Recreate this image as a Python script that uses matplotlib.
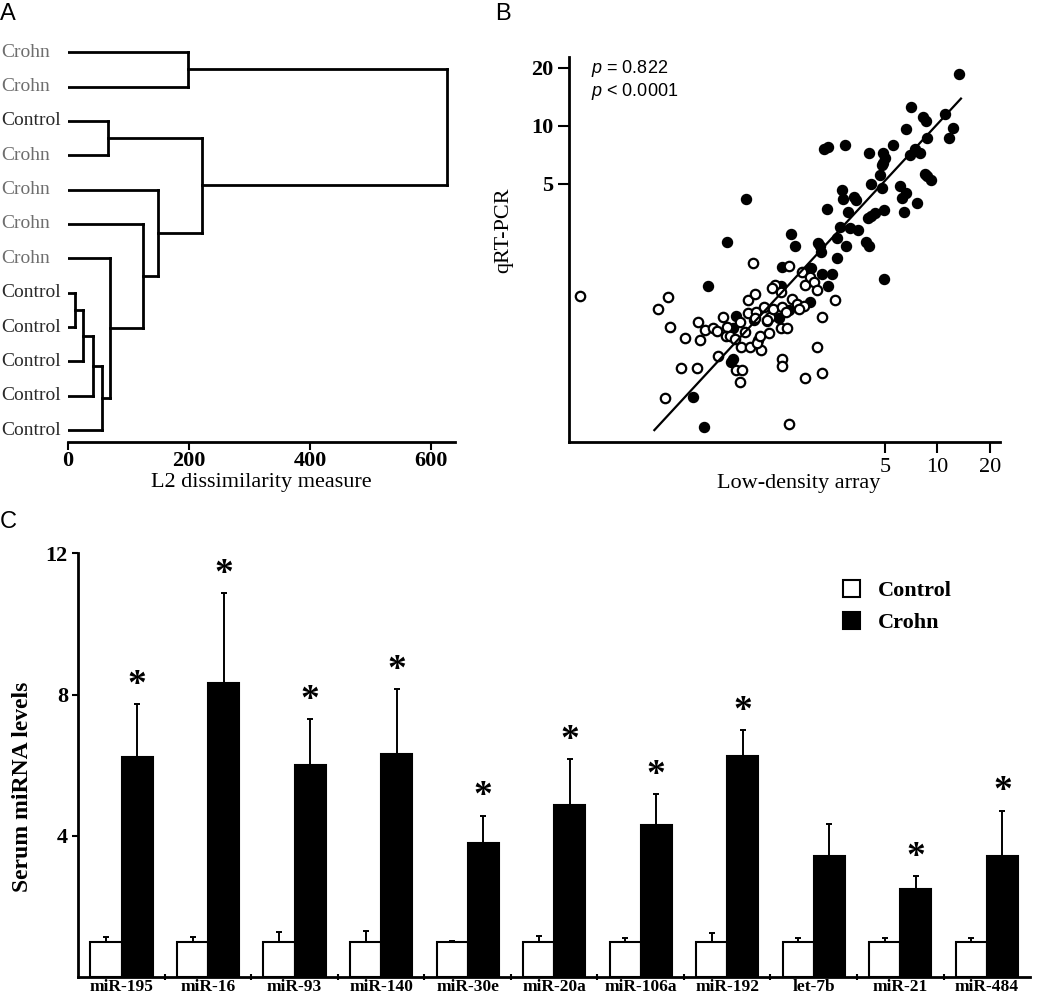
import numpy as np
import matplotlib
matplotlib.use('Agg')
import matplotlib.pyplot as plt
import matplotlib.ticker as ticker
import matplotlib.transforms as mtrans
from matplotlib.patches import Patch

SERIF = 'Liberation Serif'
SANS = 'Liberation Sans'
plt.rcParams['font.family'] = SERIF
plt.rcParams['mathtext.fontset'] = 'custom'
plt.rcParams['mathtext.it'] = 'Liberation Sans:italic'
plt.rcParams['mathtext.rm'] = 'Liberation Sans'

# ---------- A: hierarchical clustering ----------
leaf_labels = ['Crohn', 'Crohn', 'Control', 'Crohn', 'Crohn', 'Crohn', 'Crohn',
               'Control', 'Control', 'Control', 'Control', 'Control']
# (child a, child b, height); new clusters numbered from len(leaf_labels)
merges = [(7, 8, 12), (12, 9, 26), (13, 10, 42), (14, 11, 56), (6, 15, 70),
          (5, 16, 125), (4, 17, 149), (2, 3, 66), (19, 18, 221),
          (0, 1, 199), (21, 20, 626)]
dissim_ticks = [0, 200, 400, 600]

# ---------- B: array vs qRT-PCR (log2 fold change) ----------
crohn_lda = [3.73, 2.82, 3.46, 3.05, 3.11, 2.72, 3.61, 3.13, 3.54, 1.16, 1.23, 1.56,
             2.48, 2.02, 2.28, 2.80, 2.89, 2.99, 2.33, 2.29, 2.26, 2.22, 3.09, 3.13,
             3.20, 2.05, 2.61, 2.26, 1.50, 2.73, 2.65, 1.53, 1.74, 1.78, 2.94, -0.32,
             2.14, 2.00, 2.05, 2.30, 2.69, 1.22, 1.62, 1.46, 1.65, 1.80, 1.41, 0.54,
             -0.68, 1.96, 2.01, 1.04, 1.08, 1.58, 0.61, 1.11, 1.40, 2.30, 0.91, 0.36,
             1.13, 1.31, 1.23, -1.04, 0.35, 0.89, -0.52, -0.18, 0.30, 0.50, 0.07, -0.57,
             -0.61, -0.57, -0.09, -1.33, -1.13]
crohn_qpcr = [4.22, 3.64, 3.52, 3.47, 3.41, 3.27, 3.29, 3.11, 3.12, 2.93, 2.96, 2.99,
              3.00, 2.85, 2.86, 2.82, 2.93, 2.86, 2.76, 2.68, 2.64, 2.47, 2.50, 2.46,
              2.39, 2.32, 2.29, 2.25, 2.22, 2.16, 2.08, 2.06, 2.10, 2.05, 2.00, 2.06,
              1.83, 1.74, 1.77, 1.87, 1.84, 1.89, 1.84, 1.59, 1.57, 1.53, 1.40, 1.46,
              1.33, 1.32, 1.26, 1.30, 1.26, 1.26, 1.25, 1.15, 1.05, 0.69, 0.88, 0.89,
              0.78, 0.77, 0.57, 0.57, 0.57, 0.30, 0.06, -0.01, 0.01, 0.15, -0.04, -0.16,
              -0.74, -0.68, -0.36, -1.34, -1.86]
ctrl_lda = [-3.49, -2.01, -1.81, -1.78, -1.48, -1.23, -1.20, -1.57, -1.26, -1.86, -1.10,
            -0.95, -0.87, -0.76, -0.68, -0.71, -0.63, -0.54, -0.44, -0.42, -0.35, -0.85,
            -0.52, -0.41, -0.44, -0.24, -0.03, -0.11, -0.06, 0.12, -0.28, -0.15, -0.28,
            -0.14, 0.02, 0.13, 0.19, 0.37, 0.34, 0.45, 0.36, 0.36, 0.80, 1.13, 1.02,
            1.13, 0.49, -0.20, 0.49, 0.75, 0.80, 0.89, 0.97, 1.02, 1.37, 0.56, 0.64,
            0.78, 0.69, 0.43, 0.22, 0.17, 0.35, 0.08, -0.15]
ctrl_qpcr = [0.39, 0.17, 0.38, -0.14, -0.32, -0.06, -0.36, -0.84, -0.84, -1.35, -0.19,
             -0.16, -0.21, 0.04, -0.13, -0.29, -0.29, -0.35, -0.06, -0.48, -0.22, -0.63,
             -0.88, -0.88, -1.08, -0.48, -0.53, -0.42, -0.29, -0.24, 0.33, 0.43, 0.11,
             0.12, 0.21, 0.04, 0.18, 0.21, -0.16, -0.16, -0.69, -0.80, -1.02, -0.92, -0.49,
             0.04, -1.81, 0.97, 0.91, 0.80, 0.58, 0.72, 0.64, 0.50, 0.33, 0.35, 0.26,
             0.22, 0.18, 0.12, 0.59, 0.54, 0.47, -0.02, 0.01]
fit_slope = 0.976
fit_intercept = 0.11
fit_range = [-2.07, 3.77]
scatter_ticks = [5, 10, 20]

# ---------- C: serum miRNA levels ----------
mirnas = ['miR-195', 'miR-16', 'miR-93', 'miR-140', 'miR-30e', 'miR-20a',
          'miR-106a', 'miR-192', 'let-7b', 'miR-21', 'miR-484']
ctrl_mean = [1.0, 1.0, 1.0, 1.0, 1.0, 1.0, 1.0, 1.0, 1.0, 1.0, 1.0]
ctrl_err = [0.13, 0.14, 0.29, 0.32, 0.04, 0.18, 0.10, 0.25, 0.10, 0.10, 0.10]
crohn_mean = [6.24, 8.34, 6.01, 6.32, 3.79, 4.88, 4.31, 6.27, 3.44, 2.49, 3.44]
crohn_err = [1.49, 2.53, 1.30, 1.83, 0.78, 1.29, 0.87, 0.73, 0.89, 0.38, 1.27]
significant = [True, True, True, True, True, True, True, True, False, True, True]
level_ticks = [4, 8, 12]

LW = 2.0


def panel_letter(fig, x, y, letter):
    fig.text(x, y, letter, family=SANS, fontsize=17, va='top', ha='left')


def plot_dendrogram(fig):
    ax = fig.add_axes([0.0645, 0.5565, 0.369, 0.4083])
    n = len(leaf_labels)
    pos = {i: n - 1 - i for i in range(n)}
    hgt = {i: 0 for i in range(n)}
    for k, (a, b, h) in enumerate(merges):
        for c in (a, b):
            ax.plot([hgt[c], h], [pos[c], pos[c]], color='k', lw=LW,
                    solid_capstyle='projecting')
        ax.plot([h, h], [pos[a], pos[b]], color='k', lw=LW,
                solid_capstyle='projecting')
        pos[n + k] = (pos[a] + pos[b]) / 2
        hgt[n + k] = h

    trans = mtrans.blended_transform_factory(fig.transFigure, ax.transData)
    for i, lab in enumerate(leaf_labels):
        col = '#6e6e6e' if lab == 'Crohn' else '#2a2a2a'
        ax.text(0.001, pos[i], lab, transform=trans, fontsize=14, color=col,
                ha='left', va='center')

    ax.set_xlim(0, 640)
    ax.set_ylim(-0.34, 11.5)
    for s in ['left', 'top', 'right']:
        ax.spines[s].set_visible(False)
    ax.spines['bottom'].set_linewidth(LW)
    ax.set_yticks([])
    ax.set_xticks(dissim_ticks)
    ax.tick_params(axis='x', length=6, width=1.5, pad=1)
    for t in ax.get_xticklabels():
        t.set_fontsize(16)
        t.set_fontweight('bold')
    ax.set_xlabel('L2 dissimilarity measure', fontsize=16, labelpad=1)


def plot_scatter(fig):
    ax = fig.add_axes([0.5422, 0.5565, 0.410, 0.3866])
    ax.set_xscale('log', base=2)
    ax.set_yscale('log', base=2)
    ax.scatter(2.0 ** np.array(crohn_lda), 2.0 ** np.array(crohn_qpcr), s=52,
               facecolors='k', edgecolors='k', linewidths=1.0, zorder=2)
    ax.scatter(2.0 ** np.array(ctrl_lda), 2.0 ** np.array(ctrl_qpcr), s=46,
               facecolors='white', edgecolors='k', linewidths=1.6, zorder=2)
    fx = np.array(fit_range)
    ax.plot(2.0 ** fx, 2.0 ** (fit_slope * fx + fit_intercept), color='k',
            lw=1.6, zorder=3)

    ax.set_xlim(2.0 ** -3.69, 2.0 ** 4.51)
    ax.set_ylim(2.0 ** -2.11, 2.0 ** 4.51)
    for axis in (ax.xaxis, ax.yaxis):
        axis.set_major_locator(ticker.FixedLocator(scatter_ticks))
        axis.set_minor_locator(ticker.NullLocator())
        axis.set_major_formatter(ticker.FixedFormatter([str(v) for v in scatter_ticks]))
    ax.spines['top'].set_visible(False)
    ax.spines['right'].set_visible(False)
    ax.spines['left'].set_linewidth(LW)
    ax.spines['bottom'].set_linewidth(LW)
    ax.tick_params(axis='both', length=8, width=1.5)
    for t in ax.get_yticklabels():
        t.set_fontsize(16)
        t.set_fontweight('bold')
    for t in ax.get_xticklabels():
        t.set_fontsize(16)
    ax.set_xlabel('Low-density array', fontsize=16)
    ax.xaxis.set_label_coords(0.533, -0.085)
    ax.set_ylabel('qRT-PCR', fontsize=16)
    ax.yaxis.set_label_coords(-0.13, 0.55)

    ax.text(0.05, 0.97, r'$p$ = 0.822', transform=ax.transAxes, family=SANS,
            fontsize=13, va='center')
    ax.text(0.05, 0.91, r'$p$ < 0.0001', transform=ax.transAxes, family=SANS,
            fontsize=13, va='center')


def plot_bars(fig):
    ax = fig.add_axes([0.0746, 0.01878, 0.9064, 0.4257])
    x = np.arange(len(mirnas))
    w = 0.36
    ax.bar(x - w / 2, ctrl_mean, w, color='white', edgecolor='k', lw=1.5,
           label='Control', zorder=2)
    ax.bar(x + w / 2, crohn_mean, w, color='k', edgecolor='k', lw=1.5,
           label='Crohn', zorder=2)
    zeros = np.zeros(len(mirnas))
    ax.errorbar(x - w / 2, ctrl_mean, yerr=[zeros, ctrl_err], fmt='none',
                ecolor='k', elinewidth=1.4, capsize=2.5, capthick=1.4, zorder=1)
    ax.errorbar(x + w / 2, crohn_mean, yerr=[zeros, crohn_err], fmt='none',
                ecolor='k', elinewidth=1.4, capsize=2.5, capthick=1.4, zorder=1)
    for i, sig in enumerate(significant):
        if sig:
            ax.annotate('*', (x[i] + w / 2, crohn_mean[i] + crohn_err[i]),
                        xytext=(0, 1), textcoords='offset points', ha='center',
                        va='bottom', fontsize=27, fontweight='bold')

    ax.set_xlim(-0.5, len(mirnas) - 0.5)
    ax.set_ylim(0, 12)
    ax.set_yticks(level_ticks)
    ax.set_xticks(x)
    ax.set_xticklabels(mirnas)
    ax.xaxis.set_minor_locator(ticker.FixedLocator(x[:-1] + 0.5))
    ax.tick_params(axis='x', which='major', length=0, pad=1)
    ax.tick_params(axis='x', which='minor', length=4, width=1.5, direction='inout')
    ax.tick_params(axis='y', length=4, width=1.5)
    for t in ax.get_xticklabels():
        t.set_fontsize(12.5)
        t.set_fontweight('bold')
    for t in ax.get_yticklabels():
        t.set_fontsize(16)
        t.set_fontweight('bold')
    ax.spines['top'].set_visible(False)
    ax.spines['right'].set_visible(False)
    ax.spines['left'].set_linewidth(LW)
    ax.spines['bottom'].set_linewidth(LW)
    ax.set_ylabel('Serum miRNA levels', fontsize=17, fontweight='bold')
    ax.yaxis.set_label_coords(-0.048, 0.45)

    handles = [Patch(facecolor='white', edgecolor='k', lw=1.5, label='Control'),
               Patch(facecolor='k', edgecolor='k', lw=1.5, label='Crohn')]
    ax.legend(handles=handles, loc='upper left', bbox_to_anchor=(0.782, 0.985),
              frameon=False, handlelength=0.8, handleheight=0.8,
              handletextpad=0.8, labelspacing=0.5,
              prop={'family': SERIF, 'weight': 'bold', 'size': 16})


fig = plt.figure(figsize=(10.5, 9.96), dpi=100)
plot_dendrogram(fig)
plot_scatter(fig)
plot_bars(fig)
panel_letter(fig, 0.0, 0.997, 'A')
panel_letter(fig, 0.472, 0.997, 'B')
panel_letter(fig, 0.0, 0.487, 'C')
fig.savefig('out.png', dpi=100)
plt.close(fig)
